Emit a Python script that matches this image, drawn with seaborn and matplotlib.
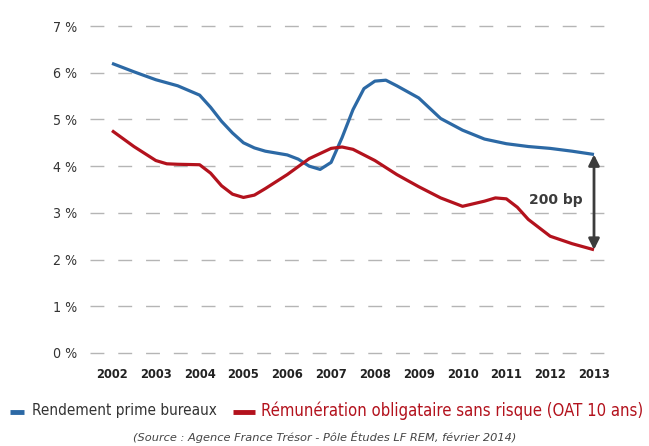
import matplotlib
matplotlib.use("Agg")
import matplotlib.pyplot as plt
import seaborn as sns
import pandas as pd
from matplotlib import font_manager
from matplotlib.lines import Line2D

# ---- data ----
years = list(range(2002, 2014))
y_ticks = [0, 1, 2, 3, 4, 5, 6, 7]
y_tick_labels = ["0 %", "1 %", "2 %", "3 %", "4 %", "5 %", "6 %", "7 %"]

blue_x = [2002, 2002.5, 2003, 2003.5, 2004, 2004.25, 2004.5, 2004.75, 2005, 2005.25, 2005.5,
          2006, 2006.25, 2006.5, 2006.75, 2007, 2007.25, 2007.5, 2007.75, 2008, 2008.25, 2008.5,
          2009, 2009.5, 2010, 2010.5, 2011, 2011.5, 2012, 2012.5, 2013]
blue_y = [6.20, 6.02, 5.85, 5.72, 5.52, 5.26, 4.96, 4.71, 4.50, 4.39, 4.32,
          4.24, 4.15, 4.00, 3.93, 4.08, 4.61, 5.21, 5.66, 5.82, 5.84, 5.72,
          5.46, 5.02, 4.77, 4.58, 4.48, 4.42, 4.38, 4.32, 4.25]

red_x = [2002, 2002.5, 2003, 2003.25, 2003.5, 2004, 2004.25, 2004.5, 2004.75, 2005, 2005.25, 2005.5,
         2006, 2006.5, 2007, 2007.25, 2007.5, 2008, 2008.5, 2009, 2009.5, 2010,
         2010.5, 2010.75, 2011, 2011.25, 2011.5, 2012, 2012.5, 2013]
red_y = [4.76, 4.42, 4.12, 4.05, 4.04, 4.03, 3.85, 3.58, 3.40, 3.33, 3.38, 3.52,
         3.82, 4.16, 4.38, 4.41, 4.36, 4.12, 3.82, 3.56, 3.32, 3.14,
         3.25, 3.32, 3.30, 3.12, 2.86, 2.50, 2.34, 2.21]

blue_label = "Rendement prime bureaux"
red_label = "Rémunération obligataire sans risque (OAT 10 ans)"
spread_label = "200 bp"
source_text = "(Source : Agence France Trésor - Pôle Études LF REM, février 2014)"

BLUE = "#2c69a5"
RED = "#b3121d"
DARK = "#333333"

sns.set_theme(style="white")

# look for a condensed / narrow font for labels
def find_font(bold):
    for f in font_manager.fontManager.ttflist:
        fn = f.fname.lower()
        if ("narrow" in fn or "condensed" in fn) and "italic" not in fn and "oblique" not in fn:
            if ("bold" in fn) == bold:
                return f
    return None

cond = find_font(False)
cond_bold = find_font(True)
fp_reg = (font_manager.FontProperties(fname=cond.fname) if cond is not None
          else font_manager.FontProperties(family="Roboto"))
fp_bold = (font_manager.FontProperties(fname=cond_bold.fname) if cond_bold is not None
           else font_manager.FontProperties(family="Roboto", weight="bold"))
plt.rcParams["font.family"] = ["Roboto", "DejaVu Sans"]

df = pd.concat([
    pd.DataFrame({"year": blue_x, "value": blue_y, "series": blue_label}),
    pd.DataFrame({"year": red_x, "value": red_y, "series": red_label}),
])

fig = plt.figure(figsize=(6.49, 4.46), dpi=100)
ax = fig.add_axes([90 / 649, (446 - 353) / 446, (606 - 90) / 649, (353 - 26) / 446])

sns.lineplot(data=df, x="year", y="value", hue="series",
             palette={blue_label: BLUE, red_label: RED},
             linewidth=2.3, ax=ax, legend=False, sort=True, estimator=None)
for ln in ax.lines:
    ln.set_solid_joinstyle("round")
    ln.set_solid_capstyle("butt")

ax.set_xlim(2002 - 22 / 43.82, 2013 + 12 / 43.82)
ax.set_ylim(0, 7)
for s in ax.spines.values():
    s.set_visible(False)
ax.set_yticks(y_ticks)
ax.set_yticklabels(y_tick_labels, color=DARK)
ax.set_xticks(years)
ax.set_xticklabels([str(y) for y in years], color="#222222")
for t in ax.get_yticklabels():
    t.set_fontproperties(fp_reg)
    t.set_fontsize(10.2)
for t in ax.get_xticklabels():
    t.set_fontproperties(fp_bold)
    t.set_fontsize(9.3)
ax.tick_params(axis="y", length=0, pad=9)
ax.tick_params(axis="x", length=0, pad=11)
ax.set_xlabel("")
ax.set_ylabel("")
ax.yaxis.grid(True, color="#b5b5b5", linewidth=1, linestyle=(0, (10, 10)))
ax.xaxis.grid(False)
for gl in ax.get_ygridlines():
    gl.set_clip_on(False)

# spread arrow
ax.annotate("", xy=(2013, red_y[-1]), xytext=(2013, blue_y[-1]),
            arrowprops=dict(arrowstyle="<|-|>", color="#3c3c3c", lw=2,
                            mutation_scale=16, shrinkA=0, shrinkB=0))
ax.text(2012.13, 3.28, spread_label, fontsize=10, fontweight="bold",
        color="#3c3c3c", ha="center", va="center", family=["DejaVu Sans"])

# legend (placed in figure coordinates)
ly = (446 - 412) / 446
fig.add_artist(Line2D([10 / 649, 24 / 649], [ly, ly], transform=fig.transFigure,
                      color=BLUE, lw=3.5, solid_capstyle="butt"))
fig.add_artist(Line2D([233 / 649, 255 / 649], [ly, ly], transform=fig.transFigure,
                      color=RED, lw=3.5, solid_capstyle="butt"))
t1 = fig.text(32 / 649, ly + 1 / 446, blue_label, color=DARK, ha="left", va="center",
              fontproperties=fp_reg)
t1.set_fontsize(11)
t2 = fig.text(261 / 649, ly + 1 / 446, red_label, color=RED, ha="left", va="center",
              fontproperties=fp_reg)
t2.set_fontsize(12)

fig.text(325 / 649, (446 - 437) / 446, source_text, fontsize=8.2, style="italic",
         color="#444444", ha="center", va="center", family=["DejaVu Sans"])

fig.savefig("out.png", dpi=100)
